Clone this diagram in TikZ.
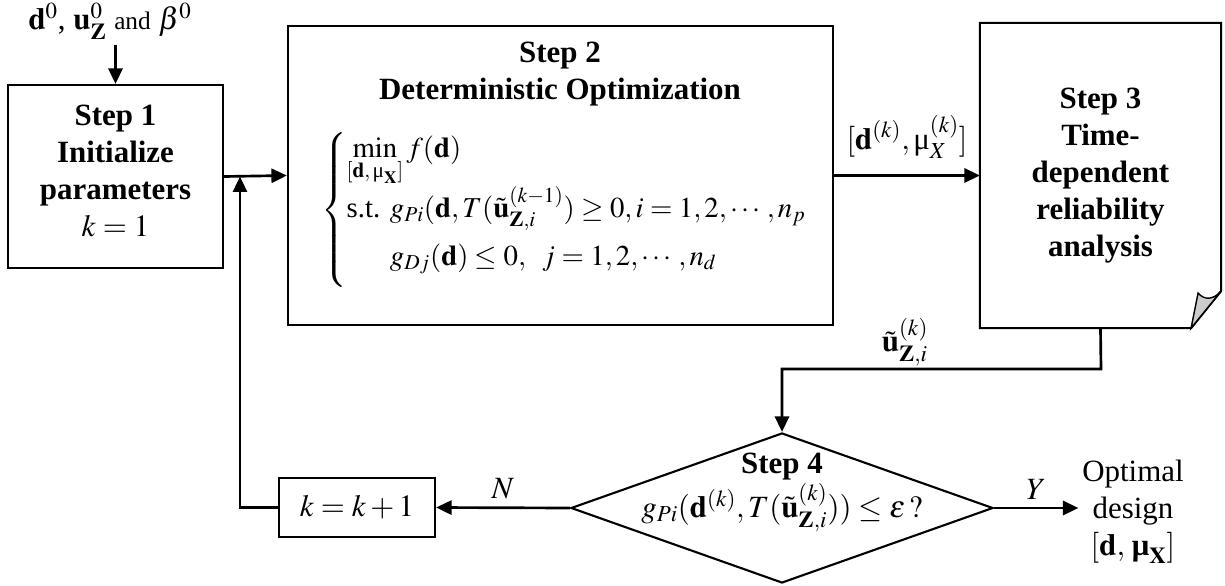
\documentclass[tikz,border=0pt]{standalone}
\usepackage{amsmath}
\usepackage{mathptmx}
\usepackage{fontspec}
\setmainfont{Liberation Serif}
\usetikzlibrary{arrows.meta, positioning, calc, shapes.geometric}
\newcommand{\umu}{\text{\normalfont μ}}
\newcommand{\bmu}{\text{\normalfont\bfseries μ}}

\begin{document}
\begin{tikzpicture}[x=0.025cm, y=-0.025cm,
  font=\fontsize{22}{26.3}\selectfont, line width=1.5pt,
  box/.style={draw, inner sep=0pt, align=center},
  hd/.style={font=\fontsize{22}{26.3}\selectfont\bfseries},
  arr/.style={-{Triangle[length=11pt,width=10pt]}, line width=1.9pt}]
\useasboundingbox (0,0) rectangle (1225,586);

% input and step 1
\node (inp) at (110,21) {$\mathbf{d}^0$, $\mathbf{u}_{\mathbf{Z}}^0$ {\fontsize{18}{20}\selectfont and} $\beta^0$};
\node[box, minimum width=5.375cm, minimum height=4.575cm] (init) at (115.5,176.5) {};
\node[align=center] (initT) at (115.5,171)
  {\textbf{Step 1}\\\textbf{Initialize}\\\textbf{parameters}\\$k=1$};

% step 2
\node[box, minimum width=13.625cm, minimum height=7.475cm] (opt) at (560.5,175.5) {};
\node[hd, align=center] (optT) at (560,74) {Step 2\\Deterministic Optimization};
\node[anchor=west, inner sep=0pt, font=\fontsize{20.5}{24}\selectfont] (optM) at (320,210)
  {$\left\{\begin{array}{@{}l@{}}
   \min\limits_{[\mathbf{d},\,\umu_{\mathbf{X}}]} f(\mathbf{d})\\[12pt]
   \text{s.t. } g_{Pi}(\mathbf{d}, T(\tilde{\mathbf{u}}_{\mathbf{Z},i}^{(k-1)}) \ge 0, i=1, 2, \cdots, n_p\\[10pt]
   \hphantom{\text{s.t. }}g_{Dj}(\mathbf{d}) \le 0,\;\; j=1, 2, \cdots, n_d\\[8pt]
   \end{array}\right.$};

% step 3 (document shape)
\node[box, draw=none, hd, minimum width=5.975cm, minimum height=7.575cm] (rel) at (1100.5,175.5)
  {Step 3\\Time-\\dependent\\reliability\\analysis};
\draw (rel.north west) -- (rel.north east) -- ([shift={(0,-37)}]rel.south east)
  -- ([shift={(-30,0)}]rel.south east) -- (rel.south west) -- cycle;
\filldraw[fill=gray!40, line width=1pt] ([shift={(-30,0)}]rel.south east)
  -- ([shift={(-23,-35)}]rel.south east)
  .. controls ([shift={(-16,-27)}]rel.south east) and ([shift={(-7,-29)}]rel.south east)
  .. ([shift={(0,-37)}]rel.south east) -- cycle;

% step 4
\node[diamond, draw, aspect=2.81, inner sep=0pt, minimum width=10.55cm, minimum height=3.75cm] (chk) at (782,508) {};
\node[align=center] (chkT) at (782,492)
  {\textbf{Step 4}\\[2pt]$g_{Pi}(\mathbf{d}^{(k)}, T(\tilde{\mathbf{u}}_{\mathbf{Z},i}^{(k)})) \le \varepsilon\,?$};
\node[box, minimum width=3.9cm, minimum height=1.475cm] (inc) at (357,507.5) {$k=k+1$};
\node[align=center, inner sep=2pt] (out) at (1133,512) {Optimal\\design\\$[\mathbf{d},\,\bmu_{\mathbf{X}}]$};

% connectors
\coordinate (bend) at (1101,369);
\coordinate (ret) at (240,507.5);
\draw[arr] (init.north |- inp.south) -- (init.north);
\draw[arr] (init.east) -- (opt.west);
\draw[arr] (opt.east) -- node[above=8pt] (lblx) {$[\mathbf{d}^{(k)}, \umu_X^{(k)}]$} (rel.west);
\draw[arr] (rel.south) -- (bend) -| (chk.north);
\node (lblu) at (905,342) {$\tilde{\mathbf{u}}_{\mathbf{Z},i}^{(k)}$};
\draw[arr] (chk.west) -- node[above=2pt] (lblN) {$N$} (inc.east);
\draw[arr] (inc.west) -- (ret) -- (ret |- init.east);
\draw[arr] (chk.east) -- node[above=2pt] (lblY) {$Y$} (out.west |- chk.east);
\end{tikzpicture}
\end{document}
